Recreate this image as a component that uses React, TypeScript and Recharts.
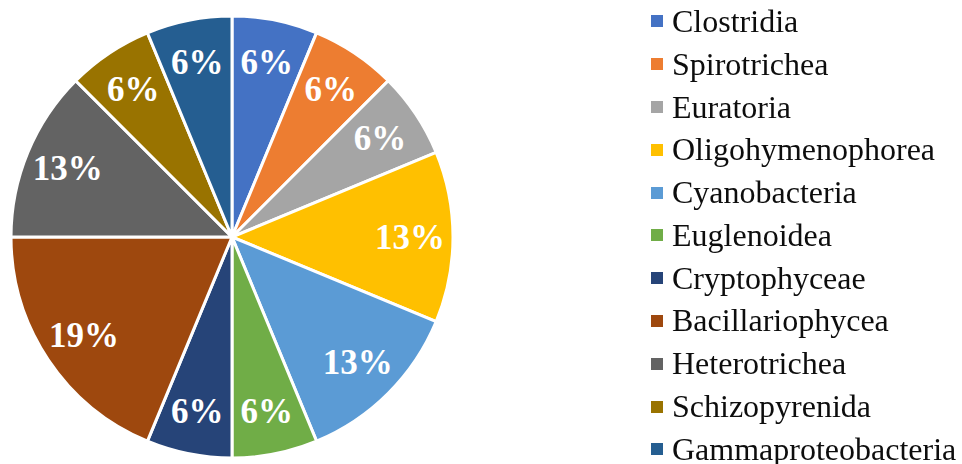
import { PieChart, Pie, Cell } from 'recharts';

const classes = [
  'Clostridia',
  'Spirotrichea',
  'Euratoria',
  'Oligohymenophorea',
  'Cyanobacteria',
  'Euglenoidea',
  'Cryptophyceae',
  'Bacillariophycea',
  'Heterotrichea',
  'Schizopyrenida',
  'Gammaproteobacteria',
];

// number of taxa per class (1/16 -> 6%, 2/16 -> 13%, 3/16 -> 19%)
const counts = [1, 1, 1, 2, 2, 1, 1, 3, 2, 1, 1];

const colors = [
  '#4472C4',
  '#ED7D31',
  '#A5A5A5',
  '#FFC000',
  '#5B9BD5',
  '#70AD47',
  '#264478',
  '#9E480E',
  '#636363',
  '#997300',
  '#255E91',
];

const data = classes.map((name, i) => ({ name, value: counts[i] }));

const RAD = Math.PI / 180;
const SERIF = '"Liberation Serif", "Times New Roman", serif';

function renderLabel(props: any) {
  const { cx, cy, midAngle, outerRadius, percent } = props;
  const r = outerRadius * 0.805;
  const x = cx + r * Math.cos(-midAngle * RAD);
  const y = cy + r * Math.sin(-midAngle * RAD);
  return (
    <text
      x={x}
      y={y}
      fill="#fff"
      textAnchor="middle"
      dominantBaseline="central"
      style={{ fontFamily: SERIF, fontSize: 35, fontWeight: 700 }}
    >
      {`${Math.round(percent * 100)}%`}
    </text>
  );
}

function LegendBox() {
  return (
    <div
      style={{
        position: 'absolute',
        left: 651,
        top: 0,
        fontFamily: SERIF,
        fontSize: 32,
        color: '#0d0d0d',
        whiteSpace: 'nowrap',
      }}
    >
      {classes.map((c, i) => (
        <div key={c} style={{ height: 42.8, display: 'flex', alignItems: 'center' }}>
          <span
            style={{
              width: 12,
              height: 12,
              background: colors[i],
              display: 'inline-block',
              marginRight: 9,
            }}
          />
          <span style={{ lineHeight: '43px' }}>{c}</span>
        </div>
      ))}
    </div>
  );
}

export default function App() {
  return (
    <div style={{ position: 'fixed', left: 0, top: 0, width: 962, height: 464, background: '#fff' }}>
      <PieChart width={962} height={464} margin={{ top: 0, right: 0, bottom: 0, left: 0 }}>
        <Pie
          data={data}
          dataKey="value"
          nameKey="name"
          cx={232}
          cy={237}
          outerRadius={221}
          startAngle={90}
          endAngle={-270}
          stroke="#fff"
          strokeWidth={3}
          label={renderLabel}
          labelLine={false}
          isAnimationActive={false}
        >
          {data.map((d, i) => (
            <Cell key={d.name} fill={colors[i]} />
          ))}
        </Pie>
      </PieChart>
      <LegendBox />
    </div>
  );
}
